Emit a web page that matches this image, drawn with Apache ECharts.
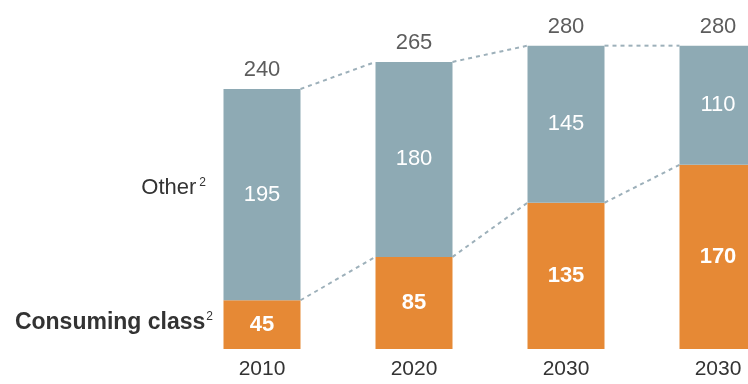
<!DOCTYPE html>
<html>
<head>
<meta charset="utf-8">
<script src="https://cdn.jsdelivr.net/npm/echarts@6/dist/echarts.min.js"></script>
<style>
  html, body { margin: 0; padding: 0; background: #ffffff; }
  #chart { width: 748px; height: 384px; }
</style>
</head>
<body>
<div id="chart"></div>
<script>
// Years shown under each stacked column
const years = ['2010', '2020', '2030', '2030'];
// Consuming class (bottom segment) and the rest (top segment)
const consumingClass = [45, 85, 135, 170];
const other = [195, 180, 145, 110];
// Column totals printed above each column
const totals = consumingClass.map((v, i) => v + other[i]);

const BAR_W = 77;
const ORANGE = '#e68935';
const SLATE = '#8eaab4';
const TEXT = '#333333';
const FONT = '"Liberation Sans", Arial, sans-serif';

// Pairs of neighbouring values, joined by dashed connectors between columns
function connectorData(values) {
  const out = [];
  for (let i = 0; i < values.length - 1; i++) out.push([i, values[i], values[i + 1]]);
  return out;
}

function renderConnector(params, api) {
  const i = api.value(0);
  const p0 = api.coord([i, api.value(1)]);
  const p1 = api.coord([i + 1, api.value(2)]);
  return {
    type: 'line',
    shape: { x1: p0[0] + BAR_W / 2, y1: p0[1], x2: p1[0] - BAR_W / 2, y2: p1[1] },
    style: { stroke: '#9db0ba', lineWidth: 2, lineDash: [4, 4] }
  };
}

const chart = echarts.init(document.getElementById('chart'), null, { renderer: 'canvas' });

chart.setOption({
  animation: false,
  backgroundColor: '#ffffff',
  textStyle: { fontFamily: FONT },
  // the last column runs off the right edge, so the grid extends past the canvas
  grid: { left: 186, width: 608, top: 24, bottom: 35, outerBoundsMode: 'none', containLabel: false },
  xAxis: {
    type: 'category',
    data: years,
    axisLine: { show: false },
    axisTick: { show: false },
    axisLabel: { color: TEXT, fontSize: 21, margin: 10, fontFamily: FONT }
  },
  yAxis: {
    type: 'value',
    min: 0,
    max: 300,
    show: false
  },
  series: [
    {
      name: 'Consuming class',
      type: 'bar',
      stack: 'total',
      barWidth: BAR_W,
      data: consumingClass,
      itemStyle: { color: ORANGE },
      label: {
        show: true,
        position: 'inside',
        color: '#ffffff',
        fontWeight: 'bold',
        fontSize: 22,
        fontFamily: FONT
      }
    },
    {
      name: 'Other',
      type: 'bar',
      stack: 'total',
      barWidth: BAR_W,
      data: other,
      itemStyle: { color: SLATE },
      label: {
        show: true,
        position: 'inside',
        color: '#ffffff',
        fontSize: 22,
        fontFamily: FONT
      }
    },
    {
      name: 'Total',
      type: 'scatter',
      symbolSize: 0,
      data: totals.map((v, i) => [i, v]),
      label: {
        show: true,
        position: 'top',
        distance: 8,
        color: TEXT,
        fontSize: 22,
        fontFamily: FONT,
        formatter: p => String(p.value[1])
      },
      z: 5
    },
    {
      type: 'custom',
      renderItem: renderConnector,
      data: connectorData(totals),
      z: 1
    },
    {
      type: 'custom',
      renderItem: renderConnector,
      data: connectorData(consumingClass),
      z: 1
    }
  ],
  graphic: [
    {
      type: 'text',
      right: 748 - 206,
      top: 177,
      style: {
        text: '{a|Other}{s|2}',
        rich: {
          a: { fontSize: 22, fill: TEXT, fontFamily: FONT },
          s: { fontSize: 12, fill: TEXT, fontFamily: FONT, verticalAlign: 'top', padding: [0, 0, 0, 3] }
        }
      }
    },
    {
      type: 'text',
      right: 748 - 213,
      top: 311,
      style: {
        text: '{a|Consuming class}{s|2}',
        rich: {
          a: { fontSize: 23, fontWeight: 'bold', fill: TEXT, fontFamily: FONT },
          s: { fontSize: 12, fill: TEXT, fontFamily: FONT, verticalAlign: 'top', padding: [0, 0, 0, 1] }
        }
      }
    }
  ]
});
</script>
</body>
</html>
